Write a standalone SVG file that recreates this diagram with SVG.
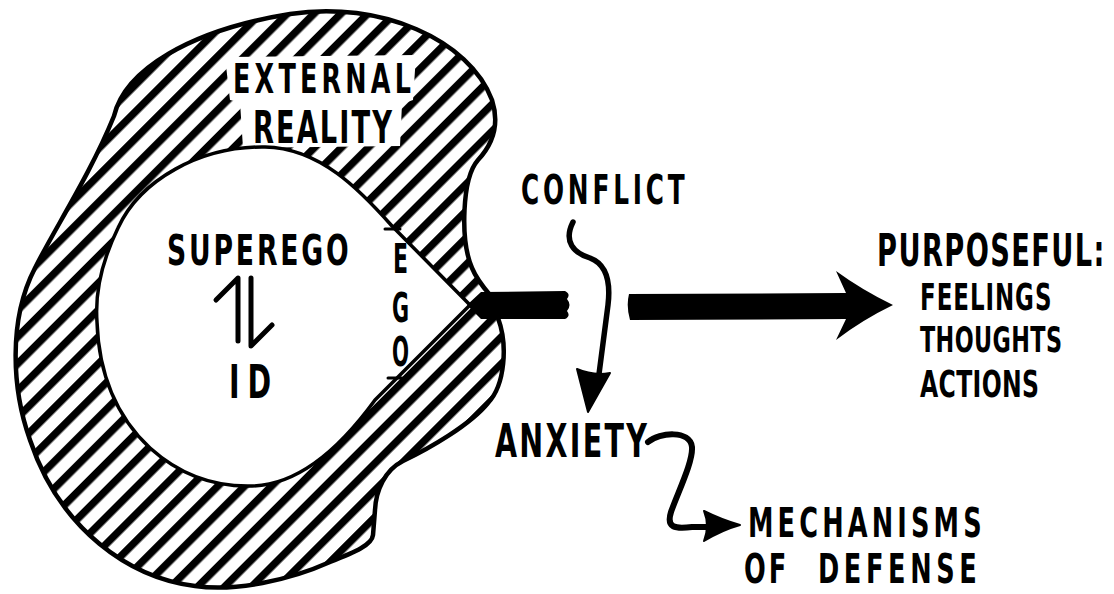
<svg xmlns="http://www.w3.org/2000/svg" width="1114" height="594" viewBox="0 0 1114 594">
<style>
.t{font-family:"DejaVu Sans","Liberation Sans",sans-serif;font-weight:bold;fill:#000}
.ln{fill:none;stroke:#000;stroke-linecap:round;stroke-linejoin:round}
</style>
<defs>
<pattern id="hatch" patternUnits="userSpaceOnUse" width="19" height="19" patternTransform="rotate(45)">
<rect x="0" y="0" width="19" height="19" fill="#fff"/>
<rect x="0" y="0" width="7.5" height="19" fill="#000"/>
</pattern>
<path id="outer" d="M114,116 C125,70 190,30 290,14 C380,0 470,40 492,100 C500,125 492,145 478,160 C462,178 460,240 472,268 C477,280 484,288 490,295 L498,318 C508,345 505,385 488,403 C470,425 430,448 403,461 C385,470 376,490 375,510 L373,535 C372,545 355,552 330,562 C290,580 235,592 195,586 C130,578 60,530 30,440 C12,390 8,320 35,268 C55,228 90,175 114,116 Z"/>
<path id="hole" d="M470,305 L392,226 C360,190 320,148 265,147 C200,146 140,180 118,228 C100,265 95,295 97,322 C99,380 120,420 150,448 C180,475 215,487 252,486 C295,485 335,455 375,400 Z"/>
</defs>
<rect width="1114" height="594" fill="#fff"/>
<g id="external-reality">
<use href="#outer" fill="url(#hatch)"/>
<polygon points="225,57 416,55 413,100 402,104 400,146 243,148 240,102 230,100" fill="#fff"/>
<use href="#outer" fill="none" stroke="#000" stroke-width="4.5" stroke-linejoin="round"/>
<text class="t" transform="translate(233,93) scale(0.62,1)" font-size="41" textLength="287" lengthAdjust="spacing">EXTERNAL</text>
<text class="t" transform="translate(253,143) scale(0.62,1)" font-size="44" textLength="224" lengthAdjust="spacing">REALITY</text>
</g>
<g id="ego">
<use href="#hole" fill="#fff" stroke="#000" stroke-width="3.5" stroke-linejoin="round"/>
<line class="ln" x1="385" y1="229" x2="400" y2="229" stroke-width="3"/>
<line class="ln" x1="388" y1="378" x2="402" y2="378" stroke-width="3"/>
<text class="t" transform="translate(393,273) scale(0.55,1)" font-size="40">E</text>
<text class="t" transform="translate(392,322) scale(0.52,1)" font-size="40">G</text>
<text class="t" transform="translate(392,366) scale(0.5,1)" font-size="40">O</text>
</g>
<g id="superego">
<text class="t" transform="translate(167,265) scale(0.62,1)" font-size="43" textLength="293" lengthAdjust="spacing">SUPEREGO</text>
</g>
<g id="id">
<text class="t" transform="translate(229,398) scale(0.62,1)" font-size="46" textLength="68" lengthAdjust="spacing">ID</text>
</g>
<g id="conflict">
<text class="t" transform="translate(521,204) scale(0.62,1)" font-size="40" textLength="264" lengthAdjust="spacing">CONFLICT</text>
</g>
<g id="anxiety">
<text class="t" transform="translate(495,457) scale(0.62,1)" font-size="46" textLength="245" lengthAdjust="spacing">ANXIETY</text>
</g>
<g id="purposeful">
<text class="t" transform="translate(877,266) scale(0.62,1)" font-size="44" textLength="367" lengthAdjust="spacing">PURPOSEFUL:</text>
<text class="t" transform="translate(920,310) scale(0.62,1)" font-size="37" textLength="212" lengthAdjust="spacing">FEELINGS</text>
<text class="t" transform="translate(920,352) scale(0.62,1)" font-size="36" textLength="229" lengthAdjust="spacing">THOUGHTS</text>
<text class="t" transform="translate(920,397) scale(0.62,1)" font-size="38" textLength="192" lengthAdjust="spacing">ACTIONS</text>
</g>
<g id="mechanisms-of-defense">
<text class="t" transform="translate(748,537) scale(0.64,1)" font-size="40" textLength="365" lengthAdjust="spacing">MECHANISMS</text>
<text class="t" transform="translate(744,583) scale(0.64,1)" font-size="40" textLength="66" lengthAdjust="spacing">OF</text>
<text class="t" transform="translate(818,583) scale(0.64,1)" font-size="40" textLength="248" lengthAdjust="spacing">DEFENSE</text>
</g>
<g id="connectors">
<path class="ln" d="M238,341 L238,278 L216,300" stroke-width="5"/>
<path class="ln" d="M251,278 L251,346 L272,325" stroke-width="5"/>
<path d="M467,305 L481,292 L565,291 Q571,294 567,299 Q572,305 567,311 Q571,316 565,319 L481,319 Z" fill="#000"/>
<path d="M629,294 Q626,306 630,320 L846,319 L836,340 Q862,320 893,305 Q862,290 836,271 L846,293 Z" fill="#000"/>
<path class="ln" d="M573,222 C563,242 574,253 590,258 C606,264 611,280 608,305 L599,374" stroke-width="5.5"/>
<path d="M577,369 Q593,376 610,373 L588,412 Z" fill="#000" stroke="#000" stroke-width="2" stroke-linejoin="round"/>
<path class="ln" d="M648,442 C660,432 690,430 692,447 C693,462 678,492 671,512 C666,528 675,529 692,527 L708,527" stroke-width="6"/>
<path d="M704,511 Q722,520 740,525 Q722,530 704,541 Q710,526 704,511 Z" fill="#000" stroke="#000" stroke-width="2" stroke-linejoin="round"/>
</g>
</svg>
